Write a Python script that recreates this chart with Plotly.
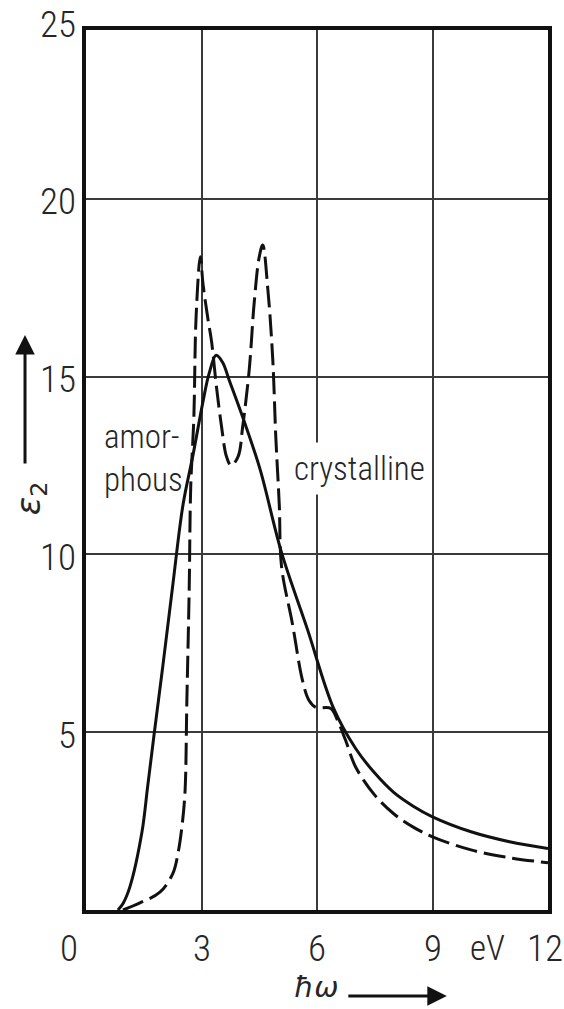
import plotly.graph_objects as go

# Photon energy (eV) and imaginary part of the dielectric function
amorphous_x = [0.83, 0.97, 1.14, 1.45, 1.6, 1.77, 2.0, 2.25, 2.52, 2.78, 3.03, 3.2, 3.38, 3.55, 3.72,
               4.09, 4.52, 5.08, 5.75, 6.42, 7.0, 7.5, 8.0, 8.5, 9.0, 10.0, 11.0, 12.0]
amorphous_y = [0.0, 0.2, 0.65, 2.17, 3.46, 4.95, 6.9, 9.1, 11.4, 12.8, 14.25, 15.1, 15.6, 15.4, 14.9,
               13.8, 12.4, 10.05, 7.9, 5.7, 4.55, 3.85, 3.3, 2.92, 2.62, 2.2, 1.92, 1.73]

crystalline_x = [0.96, 1.4, 1.92, 2.26, 2.39, 2.49, 2.57, 2.62, 2.68, 2.72, 2.8, 2.86, 2.97, 3.04,
                 3.17, 3.26, 3.39, 3.52, 3.65, 3.77, 3.95, 4.07, 4.24, 4.37, 4.5, 4.59, 4.72, 4.85,
                 4.93, 5.02, 5.08, 5.36, 5.62, 5.79, 5.97, 6.36, 6.53, 6.74, 7.0, 7.5, 8.0, 8.5,
                 9.0, 10.0, 11.0, 12.0]
crystalline_y = [0.0, 0.2, 0.5, 1.04, 1.6, 2.33, 3.29, 5.9, 9.0, 11.9, 13.8, 16.7, 18.37, 17.6,
                 16.6, 16.0, 14.7, 13.6, 12.75, 12.5, 12.75, 13.6, 15.2, 17.1, 18.37, 18.7, 17.5, 15.5,
                 13.3, 11.4, 9.65, 8.06, 6.47, 5.9, 5.7, 5.67, 5.34, 4.78, 4.03, 3.23, 2.7, 2.33,
                 2.06, 1.69, 1.47, 1.33]

x_ticks = [0, 3, 6, 9, 12]
x_tick_labels = ["0", "3", "6", "9", "12"]
x_tick_shift = [-17, 0, 0, 0, -3]
y_ticks = [5, 10, 15, 20, 25]
y_tick_labels = ["5", "10", "15", "20", "25"]
Y_TOP = 24.75

FONT = "Roboto Condensed, DejaVu Sans Condensed, sans-serif"
INK = "#111111"
TEXT = "#262626"

fig = go.Figure()

fig.add_trace(go.Scatter(
    x=amorphous_x, y=amorphous_y, mode="lines",
    line=dict(color=INK, width=3, shape="spline", smoothing=1.0),
    showlegend=False, hoverinfo="skip"))

fig.add_trace(go.Scatter(
    x=crystalline_x, y=crystalline_y, mode="lines",
    line=dict(color=INK, width=3, shape="spline", smoothing=1.0, dash="22px,7px"),
    showlegend=False, hoverinfo="skip"))

annotations = []
for v, lab, dx in zip(x_ticks, x_tick_labels, x_tick_shift):
    annotations.append(dict(x=v, y=0, xref="x", yref="paper", text=lab, showarrow=False,
                            xanchor="center", yanchor="middle", xshift=dx, yshift=-38,
                            font=dict(family=FONT, size=37, color=TEXT, weight=300)))
for v, lab in zip(y_ticks, y_tick_labels):
    annotations.append(dict(x=0, y=v / Y_TOP, xref="paper", yref="paper", text=lab, showarrow=False,
                            xanchor="right", yanchor="middle", xshift=-8, yshift=-3,
                            font=dict(family=FONT, size=37, color=TEXT, weight=300)))

# unit between the last two x tick labels
annotations.append(dict(x=0.868, y=0, xref="paper", yref="paper", text="eV", showarrow=False,
                        xanchor="center", yanchor="middle", yshift=-38,
                        font=dict(family=FONT, size=35, color=TEXT, weight=300)))

# curve labels
annotations.append(dict(x=0.035, y=0.514, xref="paper", yref="paper", text="amor-<br>phous",
                        showarrow=False, xanchor="left", yanchor="middle", align="left",
                        font=dict(family=FONT, size=33, color=TEXT, weight=300)))
annotations.append(dict(x=0.593, y=0.502, xref="paper", yref="paper", text="crystalline",
                        showarrow=False, xanchor="center", yanchor="middle",
                        bgcolor="white", borderpad=6,
                        font=dict(family=FONT, size=33, color=TEXT, weight=300)))

# axis titles with their arrows
annotations.append(dict(x=-0.121, y=0.468, xref="paper", yref="paper",
                        text="<i>ε</i><sub>2</sub>", textangle=-90, showarrow=False,
                        xanchor="center", yanchor="middle",
                        font=dict(family="DejaVu Sans, sans-serif", size=34, color=TEXT)))
annotations.append(dict(x=-0.132, y=0.6534, xref="paper", yref="paper", text="",
                        showarrow=True, ax=0, ay=130, arrowhead=2, arrowsize=1.3,
                        arrowwidth=3, arrowcolor=INK))
annotations.append(dict(x=0.498, y=-0.087, xref="paper", yref="paper", text="<i>ħω</i>",
                        showarrow=False, xanchor="center", yanchor="middle",
                        font=dict(family="DejaVu Sans, sans-serif", size=29, color=TEXT)))
annotations.append(dict(x=0.781, y=-0.0977, xref="paper", yref="paper", text="",
                        showarrow=True, ax=-100, ay=0, arrowhead=2, arrowsize=1.3,
                        arrowwidth=3, arrowcolor=INK))

fig.update_layout(
    width=564, height=1009,
    margin=dict(l=86, r=16, t=30, b=99),
    paper_bgcolor="white", plot_bgcolor="white",
    annotations=annotations,
    xaxis=dict(range=[0, 12], tickvals=x_ticks, showticklabels=False, ticks="",
               showgrid=True, gridcolor="#3a3a3a", gridwidth=1.5,
               showline=True, linecolor=INK, linewidth=3.5, mirror=True, zeroline=False),
    yaxis=dict(range=[0, Y_TOP], tickvals=y_ticks, showticklabels=False, ticks="",
               showgrid=True, gridcolor="#3a3a3a", gridwidth=1.5,
               showline=True, linecolor=INK, linewidth=3.5, mirror=True, zeroline=False),
)

fig.write_html("out.html")
